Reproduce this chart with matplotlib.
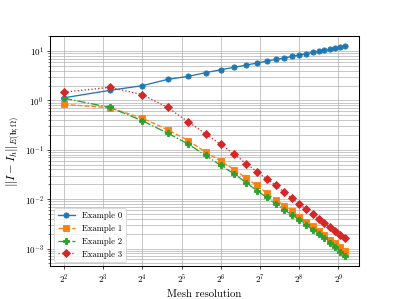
import matplotlib
matplotlib.use("Agg")
import matplotlib.pyplot as plt

plt.rcParams['font.family'] = ['cmr10', 'DejaVu Serif']
plt.rcParams['mathtext.fontset'] = 'cm'
plt.rcParams['axes.formatter.use_mathtext'] = True
plt.rcParams['font.size'] = 10.5
plt.rcParams['axes.linewidth'] = 1.2

n_cells = [4, 9, 16, 25, 36, 49, 64, 81, 100, 121, 144, 169, 196, 225, 256,
           289, 324, 361, 400, 441, 484, 529, 576]

example0 = [1.13, 1.60, 1.99, 2.67, 3.07, 3.65, 4.19, 4.67, 5.20, 5.70, 6.27,
            6.77, 7.20, 7.80, 8.30, 8.85, 9.40, 9.86, 10.3, 10.8, 11.3, 11.9, 12.6]
example1 = [0.830, 0.711, 0.438, 0.255, 0.154, 0.0894, 0.0593, 0.0398, 0.0268,
            0.0189, 0.0133, 0.00968, 0.00742, 0.00569, 0.00444, 0.00351,
            0.00282, 0.00231, 0.00189, 0.00152, 0.00128, 0.00106, 0.000877]
example2 = [1.11, 0.721, 0.388, 0.217, 0.131, 0.0766, 0.0481, 0.0326, 0.0217,
            0.0149, 0.0109, 0.00803, 0.00607, 0.00481, 0.00380, 0.00301,
            0.00242, 0.00198, 0.00161, 0.00132, 0.00109, 0.000865, 0.000718]
example3 = [1.47, 1.84, 1.31, 0.721, 0.366, 0.211, 0.128, 0.0822, 0.0527,
            0.0363, 0.0258, 0.0189, 0.0138, 0.0104, 0.00803, 0.00624, 0.00503,
            0.00404, 0.00335, 0.00269, 0.00223, 0.00191, 0.00161]

labels = ["Example 0", "Example 1", "Example 2", "Example 3"]

fig, ax = plt.subplots(figsize=(6.4, 4.8), dpi=62.35)
ax.plot(n_cells, example0, marker='o', linestyle='-', label=labels[0])
ax.plot(n_cells, example1, marker='s', linestyle='--', label=labels[1])
ax.plot(n_cells, example2, marker='P', linestyle='-.', label=labels[2])
ax.plot(n_cells, example3, marker='D', linestyle=':', label=labels[3])
ax.set_xscale('log', base=2)
ax.set_yscale('log')
ax.grid(True, which='both')
ax.set_xlabel('Mesh resolution', fontsize=12.5)
ax.set_ylabel(r'$\|I - I_h\|_{E(\mathbf{b};\Omega)}$', fontsize=14)
ax.legend(loc='lower left', fontsize=10)
fig.savefig('out.png')
